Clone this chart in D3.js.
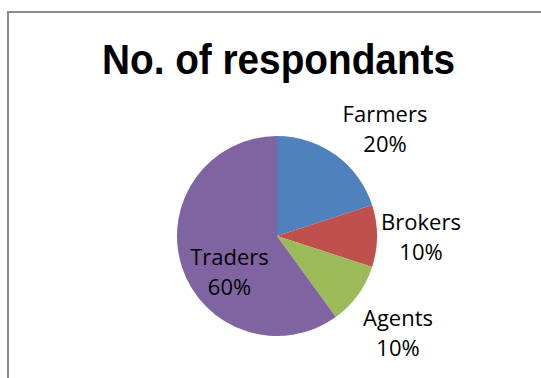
<!DOCTYPE html>
<html>
<head>
<meta charset="utf-8">
<script src="https://cdn.jsdelivr.net/npm/d3@7"></script>
<style>
  html, body { margin: 0; padding: 0; background: #fff; }
  svg { display: block; }
</style>
</head>
<body>
<svg id="chart" width="541" height="378"></svg>
<script>
const title = "No. of respondants";
const categories = ["Farmers", "Brokers", "Agents", "Traders"];
const values = [20, 10, 10, 60];
const percentLabels = ["20%", "10%", "10%", "60%"];
const colors = ["#4F81BD", "#C0504D", "#9BBB59", "#8064A2"];

const svg = d3.select("#chart");
const W = 541, H = 378;

svg.append("rect").attr("x", 0).attr("y", 0).attr("width", W).attr("height", H).attr("fill", "#fff");
svg.append("rect")
  .attr("x", 8).attr("y", 12).attr("width", 600).attr("height", 420)
  .attr("fill", "none").attr("stroke", "#8a8a8a").attr("stroke-width", 2);

svg.append("text")
  .attr("x", 102).attr("y", 74)
  .attr("font-family", "'Liberation Sans', Arial, sans-serif")
  .attr("font-weight", "bold")
  .attr("font-size", 43)
  .attr("textLength", 353)
  .attr("lengthAdjust", "spacingAndGlyphs")
  .attr("fill", "#000")
  .text(title);

const cx = 277, cy = 236, r = 100;
const data = categories.map((c, i) => ({ name: c, value: values[i], pct: percentLabels[i], color: colors[i] }));
const pie = d3.pie().value(d => d.value).sort(null);
const arc = d3.arc().innerRadius(0).outerRadius(r);
const arcs = pie(data);

const g = svg.append("g").attr("transform", `translate(${cx},${cy})`);
g.selectAll("path").data(arcs).enter().append("path")
  .attr("d", arc)
  .attr("fill", d => d.data.color);

// label anchor positions relative to pie centre (first-line baseline)
const labelOffsets = [[108, -114], [144, -6], [121, 90], [-47.5, 29]];
const labels = svg.append("g").attr("transform", `translate(${cx},${cy})`);
arcs.forEach((a, i) => {
  const [x, y] = labelOffsets[i];
  const t = labels.append("text")
    .attr("text-anchor", "middle")
    .attr("font-family", "'Open Sans', sans-serif")
    .attr("font-size", 22)
    .attr("fill", "#000");
  t.append("tspan").attr("x", x).attr("y", y).text(a.data.name);
  t.append("tspan").attr("x", x).attr("y", y + 30).text(a.data.pct);
});
</script>
</body>
</html>
